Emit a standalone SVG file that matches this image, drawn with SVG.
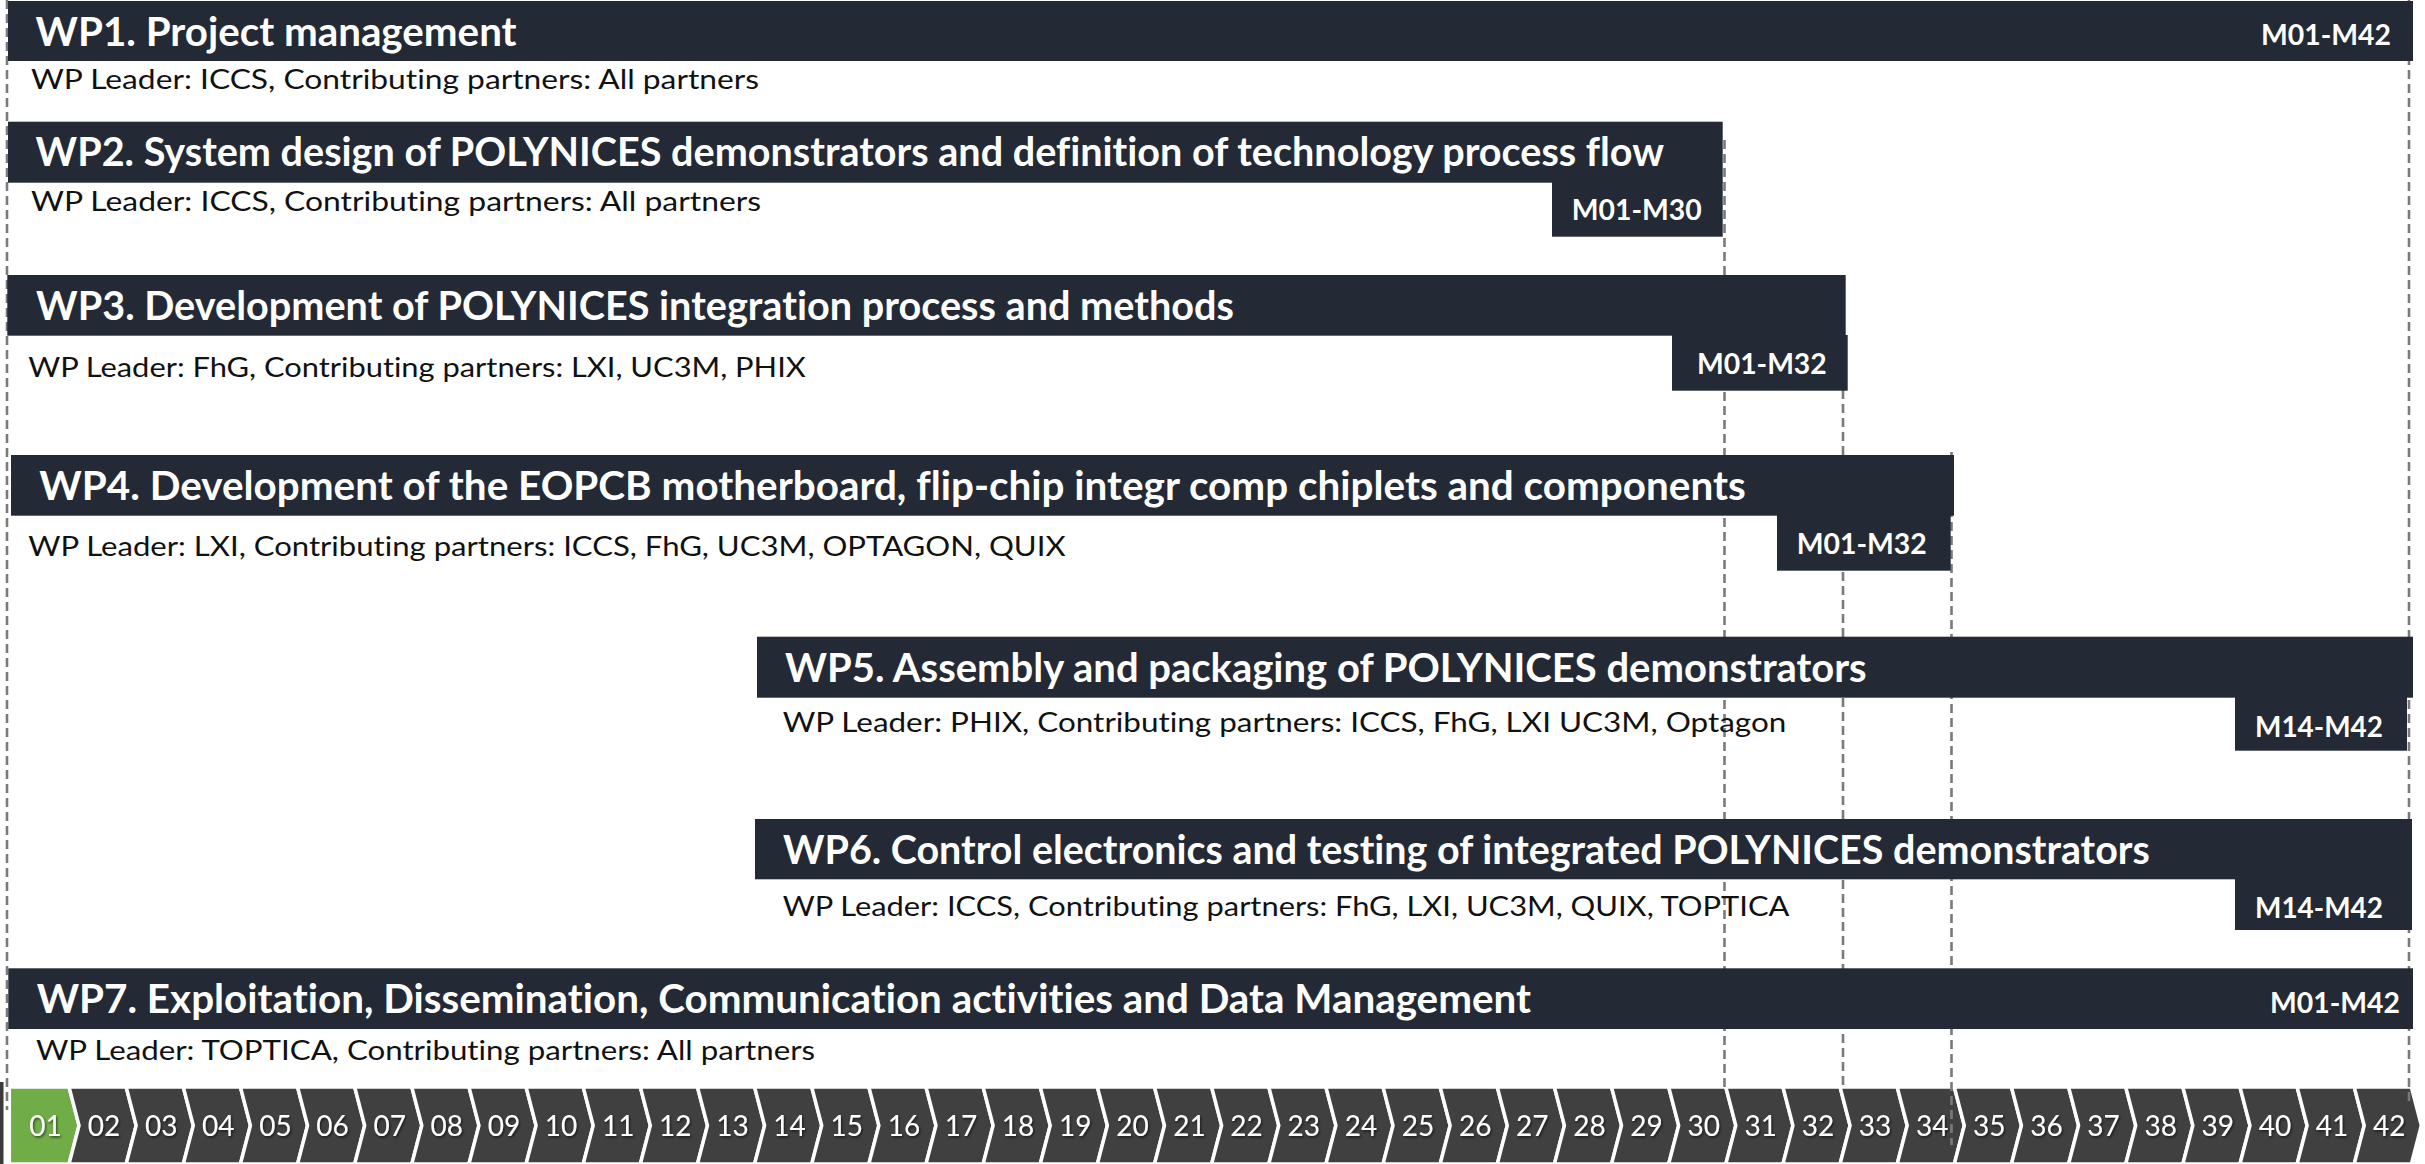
<svg xmlns="http://www.w3.org/2000/svg" xmlns:xlink="http://www.w3.org/1999/xlink" width="2425" height="1164" viewBox="0 0 2425 1164">
<style>
text{font-variant-ligatures:none}
.bar{fill:#232a35}
.title{font-family:Lato,"Open Sans","Liberation Sans",sans-serif;font-weight:700;font-size:40px;fill:#ffffff}
.lead{font-family:Lato,"Open Sans","Liberation Sans",sans-serif;font-weight:400;font-size:27px;fill:#111111}
.mlab{font-family:Lato,"Open Sans","Liberation Sans",sans-serif;font-weight:700;font-size:28px;fill:#ffffff}
.dash{stroke:#7a7a7a;stroke-width:2.6;stroke-dasharray:9 5;fill:none}
.chev{fill:#404040;stroke:#ffffff;stroke-width:3.5}
.first{fill:#70ad47;stroke:#ffffff;stroke-width:3.5}
.num{font-family:Lato,"Open Sans","Liberation Sans",sans-serif;font-weight:400;font-size:28px;fill:#ffffff;text-anchor:middle}
</style>
<defs>
<path id="chev" d="M0,0 H57.13 L67.13,38.5 L57.13,77 H0 L10,38.5 Z"/>
<filter id="ts" x="-20%" y="-20%" width="140%" height="140%">
<feDropShadow dx="1.2" dy="1.5" stdDeviation="0.8" flood-color="#000" flood-opacity="0.6"/>
</filter>
</defs>
<rect x="0" y="0" width="2425" height="1164" fill="#ffffff"/>

<g id="timeline">
<rect x="0" y="1082" width="3.5" height="82" fill="#3a3a3a"/>
<path class="first" d="M9.3,1087 H69.03 L79.03,1125.5 L69.03,1164 H9.3 Z"/>
<use href="#chev" class="chev" x="69.03" y="1087"/>
<use href="#chev" class="chev" x="126.16" y="1087"/>
<use href="#chev" class="chev" x="183.29" y="1087"/>
<use href="#chev" class="chev" x="240.42" y="1087"/>
<use href="#chev" class="chev" x="297.55" y="1087"/>
<use href="#chev" class="chev" x="354.68" y="1087"/>
<use href="#chev" class="chev" x="411.81" y="1087"/>
<use href="#chev" class="chev" x="468.94" y="1087"/>
<use href="#chev" class="chev" x="526.07" y="1087"/>
<use href="#chev" class="chev" x="583.2" y="1087"/>
<use href="#chev" class="chev" x="640.33" y="1087"/>
<use href="#chev" class="chev" x="697.46" y="1087"/>
<use href="#chev" class="chev" x="754.59" y="1087"/>
<use href="#chev" class="chev" x="811.72" y="1087"/>
<use href="#chev" class="chev" x="868.85" y="1087"/>
<use href="#chev" class="chev" x="925.98" y="1087"/>
<use href="#chev" class="chev" x="983.11" y="1087"/>
<use href="#chev" class="chev" x="1040.24" y="1087"/>
<use href="#chev" class="chev" x="1097.37" y="1087"/>
<use href="#chev" class="chev" x="1154.5" y="1087"/>
<use href="#chev" class="chev" x="1211.63" y="1087"/>
<use href="#chev" class="chev" x="1268.76" y="1087"/>
<use href="#chev" class="chev" x="1325.89" y="1087"/>
<use href="#chev" class="chev" x="1383.02" y="1087"/>
<use href="#chev" class="chev" x="1440.15" y="1087"/>
<use href="#chev" class="chev" x="1497.28" y="1087"/>
<use href="#chev" class="chev" x="1554.41" y="1087"/>
<use href="#chev" class="chev" x="1611.54" y="1087"/>
<use href="#chev" class="chev" x="1668.67" y="1087"/>
<use href="#chev" class="chev" x="1725.8" y="1087"/>
<use href="#chev" class="chev" x="1782.93" y="1087"/>
<use href="#chev" class="chev" x="1840.06" y="1087"/>
<use href="#chev" class="chev" x="1897.19" y="1087"/>
<use href="#chev" class="chev" x="1954.32" y="1087"/>
<use href="#chev" class="chev" x="2011.45" y="1087"/>
<use href="#chev" class="chev" x="2068.58" y="1087"/>
<use href="#chev" class="chev" x="2125.71" y="1087"/>
<use href="#chev" class="chev" x="2182.84" y="1087"/>
<use href="#chev" class="chev" x="2239.97" y="1087"/>
<use href="#chev" class="chev" x="2297.1" y="1087"/>
<use href="#chev" class="chev" x="2354.23" y="1087"/>
<g filter="url(#ts)">
<text class="num" x="45.5" y="1136">01</text>
<text class="num" x="104" y="1136">02</text>
<text class="num" x="161.2" y="1136">03</text>
<text class="num" x="218.3" y="1136">04</text>
<text class="num" x="275.4" y="1136">05</text>
<text class="num" x="332.6" y="1136">06</text>
<text class="num" x="389.7" y="1136">07</text>
<text class="num" x="446.8" y="1136">08</text>
<text class="num" x="503.9" y="1136">09</text>
<text class="num" x="561.1" y="1136">10</text>
<text class="num" x="618.2" y="1136">11</text>
<text class="num" x="675.3" y="1136">12</text>
<text class="num" x="732.5" y="1136">13</text>
<text class="num" x="789.6" y="1136">14</text>
<text class="num" x="846.7" y="1136">15</text>
<text class="num" x="903.9" y="1136">16</text>
<text class="num" x="961" y="1136">17</text>
<text class="num" x="1018.1" y="1136">18</text>
<text class="num" x="1075.2" y="1136">19</text>
<text class="num" x="1132.4" y="1136">20</text>
<text class="num" x="1189.5" y="1136">21</text>
<text class="num" x="1246.6" y="1136">22</text>
<text class="num" x="1303.8" y="1136">23</text>
<text class="num" x="1360.9" y="1136">24</text>
<text class="num" x="1418" y="1136">25</text>
<text class="num" x="1475.2" y="1136">26</text>
<text class="num" x="1532.3" y="1136">27</text>
<text class="num" x="1589.4" y="1136">28</text>
<text class="num" x="1646.5" y="1136">29</text>
<text class="num" x="1703.7" y="1136">30</text>
<text class="num" x="1760.8" y="1136">31</text>
<text class="num" x="1817.9" y="1136">32</text>
<text class="num" x="1875.1" y="1136">33</text>
<text class="num" x="1932.2" y="1136">34</text>
<text class="num" x="1989.3" y="1136">35</text>
<text class="num" x="2046.5" y="1136">36</text>
<text class="num" x="2103.6" y="1136">37</text>
<text class="num" x="2160.7" y="1136">38</text>
<text class="num" x="2217.8" y="1136">39</text>
<text class="num" x="2275" y="1136">40</text>
<text class="num" x="2332.1" y="1136">41</text>
<text class="num" x="2389.2" y="1136">42</text>
</g>
</g>

<g id="connectors">
<line class="dash" x1="7" y1="0" x2="7" y2="1110"/>
<line class="dash" x1="1724.5" y1="140" x2="1724.5" y2="1087"/>
<line class="dash" x1="1843" y1="390" x2="1843" y2="1087"/>
<line class="dash" x1="1951.5" y1="452" x2="1951.5" y2="1145"/>
<line class="dash" x1="2409" y1="0" x2="2409" y2="1105"/>
</g>

<g id="wp1">
<rect class="bar" x="8" y="1" width="2405" height="60"/>
<text class="title" x="35.6" y="45.5" textLength="481" lengthAdjust="spacingAndGlyphs">WP1. Project management</text>
<text class="mlab" x="2261" y="45" textLength="130" lengthAdjust="spacingAndGlyphs">M01-M42</text>
<text class="lead" x="31" y="89" textLength="728" lengthAdjust="spacingAndGlyphs">WP Leader: ICCS, Contributing partners: All partners</text>
</g>

<g id="wp2">
<rect class="bar" x="8" y="121.7" width="1714.7" height="61"/>
<rect class="bar" x="1552" y="182" width="170.7" height="54.7"/>
<text class="title" x="35.6" y="166.2" textLength="1628.4" lengthAdjust="spacingAndGlyphs">WP2. System design of POLYNICES demonstrators and definition of technology process flow</text>
<text class="mlab" x="1571.7" y="220.3" textLength="130" lengthAdjust="spacingAndGlyphs">M01-M30</text>
<text class="lead" x="31" y="211" textLength="730" lengthAdjust="spacingAndGlyphs">WP Leader: ICCS, Contributing partners: All partners</text>
</g>

<g id="wp3">
<rect class="bar" x="7.3" y="275" width="1838.4" height="60.7"/>
<rect class="bar" x="1672" y="335" width="175.7" height="55.7"/>
<text class="title" x="36" y="320" textLength="1198" lengthAdjust="spacingAndGlyphs">WP3. Development of POLYNICES integration process and methods</text>
<text class="mlab" x="1697" y="373.5" textLength="129.7" lengthAdjust="spacingAndGlyphs">M01-M32</text>
<text class="lead" x="28.3" y="376.7" textLength="777.5" lengthAdjust="spacingAndGlyphs">WP Leader: FhG, Contributing partners: LXI, UC3M, PHIX</text>
</g>

<g id="wp4">
<rect class="bar" x="11" y="455" width="1943" height="60.7"/>
<rect class="bar" x="1777" y="515" width="173.7" height="55.7"/>
<text class="title" x="39.3" y="499.5" textLength="1706.4" lengthAdjust="spacingAndGlyphs">WP4. Development of the EOPCB motherboard, flip-chip integr comp chiplets and components</text>
<text class="mlab" x="1796.7" y="553.5" textLength="130" lengthAdjust="spacingAndGlyphs">M01-M32</text>
<text class="lead" x="28.3" y="556" textLength="1037.3" lengthAdjust="spacingAndGlyphs">WP Leader: LXI, Contributing partners: ICCS, FhG, UC3M, OPTAGON, QUIX</text>
</g>

<g id="wp5">
<rect class="bar" x="757" y="636.7" width="1656" height="61"/>
<rect class="bar" x="2235" y="697" width="172" height="53.7"/>
<text class="title" x="785" y="681.5" textLength="1081.7" lengthAdjust="spacingAndGlyphs">WP5. Assembly and packaging of POLYNICES demonstrators</text>
<text class="mlab" x="2255" y="736.7" textLength="128" lengthAdjust="spacingAndGlyphs">M14-M42</text>
<text class="lead" x="782.7" y="731.5" textLength="1003.6" lengthAdjust="spacingAndGlyphs">WP Leader: PHIX, Contributing partners: ICCS, FhG, LXI UC3M, Optagon</text>
</g>

<g id="wp6">
<rect class="bar" x="755" y="819" width="1657" height="60.3"/>
<rect class="bar" x="2235" y="879" width="177" height="51"/>
<text class="title" x="783" y="863.5" textLength="1366.8" lengthAdjust="spacingAndGlyphs">WP6. Control electronics and testing of integrated POLYNICES demonstrators</text>
<text class="mlab" x="2255" y="917.5" textLength="128" lengthAdjust="spacingAndGlyphs">M14-M42</text>
<text class="lead" x="782.7" y="916" textLength="1006.7" lengthAdjust="spacingAndGlyphs">WP Leader: ICCS, Contributing partners: FhG, LXI, UC3M, QUIX, TOPTICA</text>
</g>

<g id="wp7">
<rect class="bar" x="8.3" y="968.3" width="2404.7" height="60.7"/>
<text class="title" x="36.7" y="1012.8" textLength="1494.3" lengthAdjust="spacingAndGlyphs">WP7. Exploitation, Dissemination, Communication activities and Data Management</text>
<text class="mlab" x="2270" y="1013" textLength="130" lengthAdjust="spacingAndGlyphs">M01-M42</text>
<text class="lead" x="36" y="1060" textLength="779" lengthAdjust="spacingAndGlyphs">WP Leader: TOPTICA, Contributing partners: All partners</text>
</g>
</svg>
